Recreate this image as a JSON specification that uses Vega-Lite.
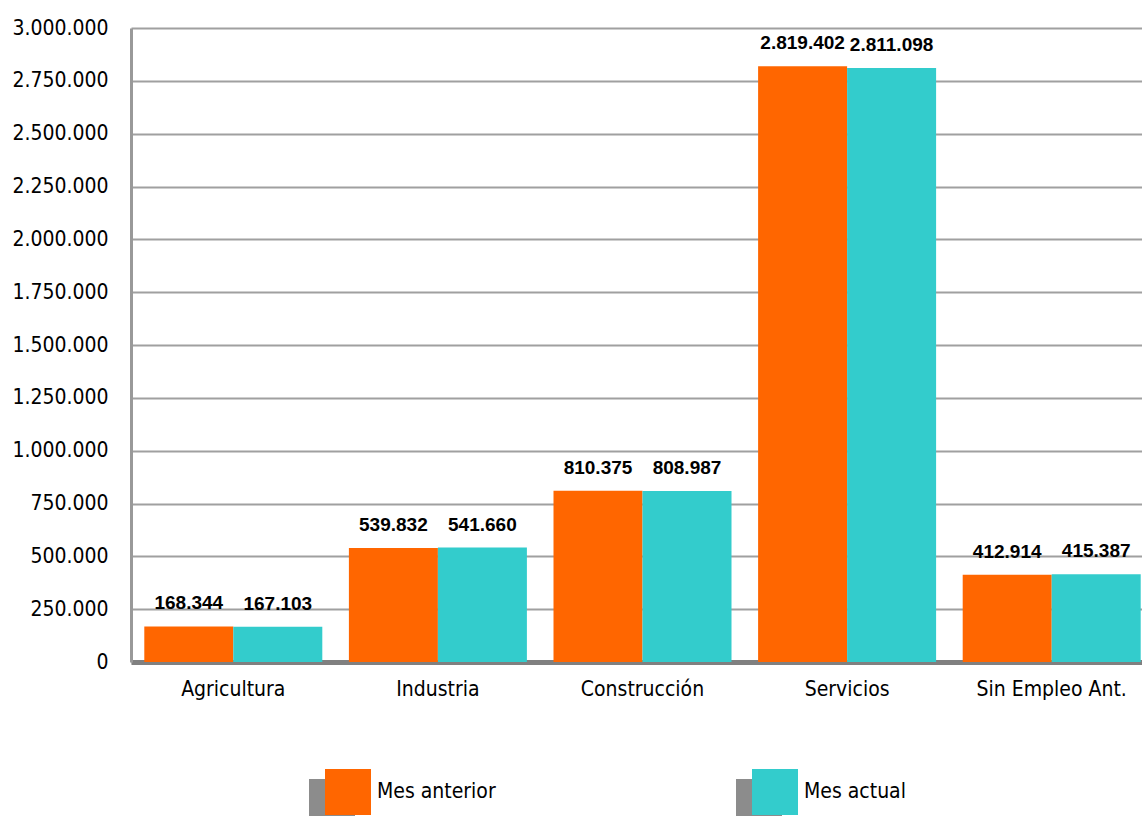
{
  "$schema": "https://vega.github.io/schema/vega-lite/v6.json",
  "width": 1011,
  "height": 634,
  "autosize": {"type": "none"},
  "padding": {"left": 131, "top": 28, "right": 0, "bottom": 154},
  "background": "#ffffff",
  "config": {
    "locale": {"number": {"decimal": ",", "thousands": ".", "grouping": [3], "currency": ["", ""]}},
    "font": "DejaVu Sans Condensed, Liberation Sans, sans-serif",
    "view": {"stroke": null}
  },
  "data": {
    "values": [
      {"sector": "Agricultura", "serie": "Mes anterior", "valor": 168344},
      {"sector": "Agricultura", "serie": "Mes actual", "valor": 167103},
      {"sector": "Industria", "serie": "Mes anterior", "valor": 539832},
      {"sector": "Industria", "serie": "Mes actual", "valor": 541660},
      {"sector": "Construcción", "serie": "Mes anterior", "valor": 810375},
      {"sector": "Construcción", "serie": "Mes actual", "valor": 808987},
      {"sector": "Servicios", "serie": "Mes anterior", "valor": 2819402},
      {"sector": "Servicios", "serie": "Mes actual", "valor": 2811098},
      {"sector": "Sin Empleo Ant.", "serie": "Mes anterior", "valor": 412914},
      {"sector": "Sin Empleo Ant.", "serie": "Mes actual", "valor": 415387}
    ]
  },
  "encoding": {
    "x": {
      "field": "sector",
      "type": "nominal",
      "sort": ["Agricultura", "Industria", "Construcción", "Servicios", "Sin Empleo Ant."],
      "scale": {"range": [0, 1023], "paddingInner": 0.13, "paddingOuter": 0.065},
      "axis": {
        "title": null,
        "labelAngle": 0,
        "labelFontSize": 21,
        "labelColor": "#000000",
        "labelPadding": 16,
        "ticks": false,
        "domainColor": "#808080",
        "domainWidth": 5,
        "grid": false
      }
    },
    "xOffset": {
      "field": "serie",
      "type": "nominal",
      "sort": ["Mes anterior", "Mes actual"],
      "scale": {"paddingInner": 0, "paddingOuter": 0}
    },
    "y": {
      "field": "valor",
      "type": "quantitative",
      "scale": {"domain": [0, 3000000], "nice": false},
      "axis": {
        "title": null,
        "values": [0, 250000, 500000, 750000, 1000000, 1250000, 1500000, 1750000, 2000000, 2250000, 2500000, 2750000, 3000000],
        "format": ",.0f",
        "labelFontSize": 21,
        "labelColor": "#000000",
        "labelPadding": 23,
        "ticks": false,
        "domainColor": "#999999",
        "domainWidth": 3,
        "gridColor": "#a0a0a0",
        "gridWidth": 2
      }
    }
  },
  "resolve": {"legend": {"color": "independent", "fill": "independent"}},
  "layer": [
    {
      "transform": [{"calculate": "datum.serie", "as": "sombra"}, {"filter": "datum.valor < 0"}],
      "mark": {"type": "point", "filled": true, "opacity": 1},
      "encoding": {
        "color": {
          "field": "sombra",
          "type": "nominal",
          "sort": ["Mes anterior", "Mes actual"],
          "scale": {"domain": ["Mes anterior", "Mes actual"], "range": ["#8c8c8c", "#8c8c8c"]},
          "legend": {
            "title": null,
            "orient": "none",
            "legendX": 178,
            "legendY": 751,
            "direction": "horizontal",
            "columns": 2,
            "columnPadding": 375,
            "symbolType": "square",
            "symbolSize": 2116,
            "symbolStrokeWidth": 0,
            "symbolOpacity": 1,
            "labelExpr": "''",
            "labelFontSize": 21,
            "labelOffset": 6
          }
        }
      }
    },
    {
      "mark": {"type": "bar"},
      "encoding": {
        "fill": {
          "field": "serie",
          "type": "nominal",
          "sort": ["Mes anterior", "Mes actual"],
          "scale": {"domain": ["Mes anterior", "Mes actual"], "range": ["#ff6600", "#33cccc"]},
          "legend": {
            "title": null,
            "orient": "none",
            "legendX": 194,
            "legendY": 741,
            "direction": "horizontal",
            "columns": 2,
            "columnPadding": 256,
            "symbolType": "square",
            "symbolSize": 2116,
            "symbolStrokeWidth": 0,
            "symbolOpacity": 1,
            "labelFontSize": 21,
            "labelColor": "#000000",
            "labelOffset": 6
          }
        }
      }
    },
    {
      "mark": {"type": "text", "font": "Liberation Sans", "fontWeight": "bold", "fontSize": 19, "dy": -17, "baseline": "alphabetic", "color": "#000000"},
      "encoding": {
        "text": {"field": "valor", "type": "quantitative", "format": ",.0f"}
      }
    }
  ]
}
